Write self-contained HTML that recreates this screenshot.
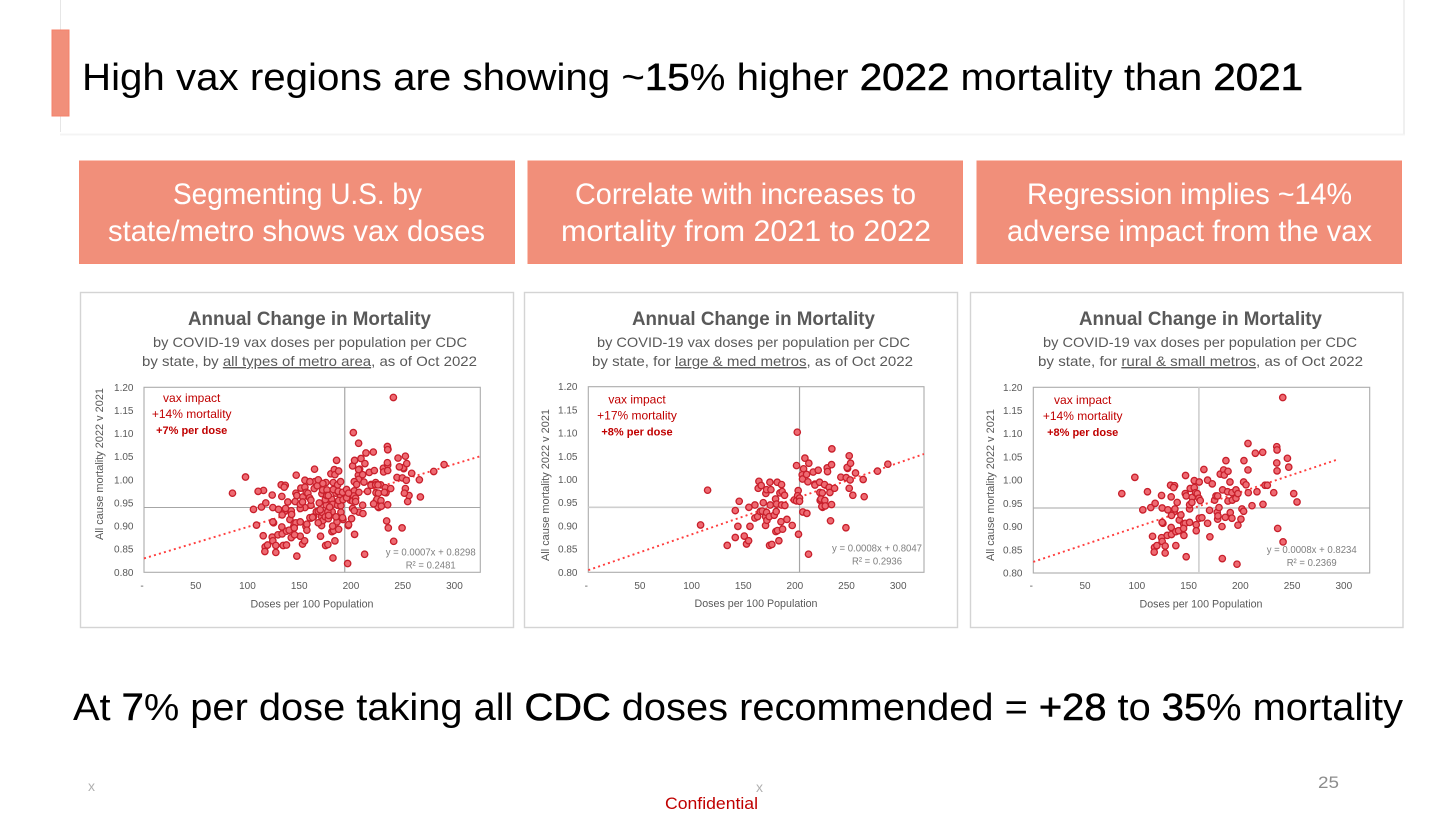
<!DOCTYPE html>
<html lang="en">
<head>
<meta charset="utf-8">
<title>High vax regions mortality slide</title>
<style>
html,body{margin:0;padding:0;background:#fff;width:1456px;height:816px;overflow:hidden}
svg{display:block}
text{font-family:"Liberation Sans",sans-serif}
.big{font-size:38px;fill:#000}
.strong{stroke:#000;stroke-width:.6}
.hd{font-size:29.5px;fill:#fff;text-anchor:middle}
.ct{font-size:19px;font-weight:700;fill:#595959}
.cs{font-size:14px;fill:#595959}
.ax{font-size:10px;fill:#595959}
.axt{font-size:11px;fill:#595959}
</style>
</head>
<body>
<svg xmlns="http://www.w3.org/2000/svg" width="1456" height="816" viewBox="0 0 1456 816">
  <rect x="0" y="0" width="1456" height="816" fill="#fff"/>
  <path d="M60.5 0V132" stroke="#e6e6e6" fill="none"/>
  <path d="M60 134.5H1405" stroke="#f4f4f4" stroke-width="2" fill="none"/>
  <path d="M1404 0V134" stroke="#f0f0f0" stroke-width="2" fill="none"/>
  <rect x="52" y="30" width="17" height="86" fill="#F18F7A" stroke="#F58069" stroke-width="1"/>
  <text class="big" x="82" y="90" textLength="1221" lengthAdjust="spacingAndGlyphs">High vax regions are showing ~<tspan class="strong">15</tspan>% higher <tspan class="strong">2022</tspan> mortality than <tspan class="strong">2021</tspan></text>

  <g>
    <rect x="79.5" y="161" width="435" height="102.5" fill="#F18F7A" stroke="#F58C75"/>
    <text class="hd" x="297.5" y="204" textLength="249" lengthAdjust="spacingAndGlyphs">Segmenting U.S. by</text>
    <text class="hd" x="296.5" y="241" textLength="377" lengthAdjust="spacingAndGlyphs">state/metro shows vax doses</text>
  </g>
  <g>
    <rect x="528" y="161" width="434.5" height="102.5" fill="#F18F7A" stroke="#F58C75"/>
    <text class="hd" x="745.5" y="204" textLength="341" lengthAdjust="spacingAndGlyphs">Correlate with increases to</text>
    <text class="hd" x="746" y="241" textLength="370" lengthAdjust="spacingAndGlyphs">mortality from 2021 to 2022</text>
  </g>
  <g>
    <rect x="977" y="161" width="424.5" height="102.5" fill="#F18F7A" stroke="#F58C75"/>
    <text class="hd" x="1189.5" y="204" textLength="325" lengthAdjust="spacingAndGlyphs">Regression implies ~14%</text>
    <text class="hd" x="1189.5" y="241" textLength="365" lengthAdjust="spacingAndGlyphs">adverse impact from the vax</text>
  </g>

  <g id="chart-all">
    <rect x="80.5" y="292.5" width="433" height="335" fill="#fff" stroke="#d4d4d4" stroke-width="1.4"/>
    <text class="ct" x="188" y="325" textLength="243" lengthAdjust="spacingAndGlyphs">Annual Change in Mortality</text>
    <text class="cs" x="153" y="347" textLength="314" lengthAdjust="spacingAndGlyphs">by COVID-19 vax doses per population per CDC</text>
    <text class="cs" x="142" y="366" textLength="335" lengthAdjust="spacingAndGlyphs">by state, by <tspan text-decoration="underline" style="text-decoration:underline">all types of metro area</tspan>, as of Oct 2022</text>
  </g>
  <g id="chart-large">
    <rect x="524.5" y="292.5" width="433" height="335" fill="#fff" stroke="#d4d4d4" stroke-width="1.4"/>
    <text class="ct" x="632" y="325" textLength="243" lengthAdjust="spacingAndGlyphs">Annual Change in Mortality</text>
    <text class="cs" x="597" y="347" textLength="313" lengthAdjust="spacingAndGlyphs">by COVID-19 vax doses per population per CDC</text>
    <text class="cs" x="592" y="366" textLength="321" lengthAdjust="spacingAndGlyphs">by state, for <tspan text-decoration="underline" style="text-decoration:underline">large &amp; med metros</tspan>, as of Oct 2022</text>
  </g>
  <g id="chart-small">
    <rect x="970.5" y="292.5" width="432.5" height="335" fill="#fff" stroke="#d4d4d4" stroke-width="1.4"/>
    <text class="ct" x="1079" y="325" textLength="243" lengthAdjust="spacingAndGlyphs">Annual Change in Mortality</text>
    <text class="cs" x="1043" y="347" textLength="314" lengthAdjust="spacingAndGlyphs">by COVID-19 vax doses per population per CDC</text>
    <text class="cs" x="1038" y="366" textLength="325" lengthAdjust="spacingAndGlyphs">by state, for <tspan text-decoration="underline" style="text-decoration:underline">rural &amp; small metros</tspan>, as of Oct 2022</text>
  </g>

  <text class="big" x="73" y="720" textLength="1330" lengthAdjust="spacingAndGlyphs">At <tspan class="strong">7</tspan>% per dose taking all <tspan class="strong">CDC</tspan> doses recommended = <tspan class="strong">+28</tspan> to <tspan class="strong">35</tspan>% mortality</text>
  <text x="88" y="791" font-size="14" fill="#b0b0b0" textLength="7" lengthAdjust="spacingAndGlyphs">x</text>
  <text x="756" y="792" font-size="14" fill="#b0b0b0" textLength="7" lengthAdjust="spacingAndGlyphs">x</text>
  <text x="665" y="809" font-size="17" fill="#c00000" textLength="93" lengthAdjust="spacingAndGlyphs">Confidential</text>
  <text x="1318" y="788" font-size="16.5" fill="#8c8c8c" textLength="21" lengthAdjust="spacingAndGlyphs">25</text>
</svg>

<script>
// Large & medium metros
const largeDoses = [108.7,115.5,134.5,142.3,142.3,146.1,144.8,151,153.2,155.2,155.5,156.5,161.3,161.3,163.9,165.2,164.5,167.4,166.5,168.4,169.4,171.9,172.6,171.6,171.6,172.6,172.9,175.2,175.8,175.5,177.7,176.1,176.8,180,181.3,182.3,181.9,182.9,181.6,183.2,184.5,185.5,187.1,187.1,186.5,187.7,188.1,190.3,190,192.3,197.4,199.4,201.6,202.3,203.2,202.6,201.6,204.5,204.5,203.5,207.7,211.6,208.4,209.7,207.1,207.4,211.3,212.6,213.5,213.2,217.7,219.4,219.4,222.6,223.9,224.2,224.5,226.5,225.2,226.8,226.1,228.7,229,229.4,231.3,231.6,233.2,233.9,234.5,235.5,235.5,235.8,238.4,244.5,249.7,249.4,251,250.6,252.6,253.9,253.5,252.6,256.1,258.7,266.1,267.1,280,290];
const largeMortality = [.902,.977,.858,.875,.933,.953,.899,.878,.861,.868,.94,.899,.945,.917,.92,.996,.981,.987,.931,.932,.95,.97,.978,.901,.92,.929,.912,.92,.994,.858,.86,.945,.978,.923,.958,.947,.931,.994,.888,.89,.868,.971,.989,.945,.909,.974,.893,.944,.966,.914,.901,.956,1.03,1.102,.976,.965,.954,.96,.953,.882,.93,.927,1.023,1.046,1.01,1.001,1.011,.995,1.035,.839,1.016,.99,.988,1.02,.994,.972,.955,.971,.958,.94,.942,.989,.955,.943,1.025,1.017,.983,.972,.911,1.032,.946,1.066,.981,1.005,1.004,.896,1.024,1.026,1.051,1.035,.999,.981,.966,1.014,1,.963,1.018,1.033];
// Rural & small metros
const smallDoses = [85.5,98.1,105.8,110.3,113.5,117.7,115.2,117.1,116.8,119.4,123.9,124.5,123.9,124.5,127.4,127.4,125.2,124.5,130,129.4,132.6,136.5,133.2,135.5,136.1,133.5,136.8,139,133.2,133.5,137.7,140.3,137.7,141,142.6,145.2,146.8,145.2,145.5,147.7,151,147.1,146.8,147.7,151.6,151,151,153.5,153.2,155.5,155.5,156.8,158.4,160.3,160,161.3,160.3,162.9,157.4,157.4,164.8,168.4,168.4,170.6,170.3,172.9,175.2,176.5,177.7,178.1,179.4,178.1,178.4,182.6,182.3,182.9,180.6,183.9,184.5,186.1,188.1,185.5,187.7,188.1,190,191.9,192.3,190.3,191.9,195.8,195.8,197.7,197.7,200.6,201.6,203.2,196.8,203.5,203.2,205.5,207.7,207.4,207.4,214.5,211.3,216.1,221.6,221.9,223.9,226.1,232.3,235.2,235.5,235.2,235.5,236.1,241.3,241,245.5,246.8,251.6,254.8];
const smallMortality = [.971,1.006,.936,.975,.941,.95,.879,.855,.845,.859,.967,.94,.876,.868,.858,.843,.907,.909,.936,.881,.989,.988,.964,.984,.932,.924,.938,.952,.898,.883,.889,.891,.859,.914,.925,.906,.907,.896,.881,.835,.909,1.01,.971,.966,.982,.938,.947,.963,.952,.999,.984,.973,.971,.996,.961,.956,.918,.919,.904,.891,1.023,1,.907,.878,.935,.992,.957,.966,.931,.966,.941,.916,.923,.831,.9,.979,1.013,1.022,1.011,1.042,1.019,.92,.975,.955,.996,.973,.957,.93,.918,.979,.961,.971,.903,.916,.938,.933,.819,1.042,.996,.99,.973,1.022,1.079,1.058,.945,.975,1.06,.948,.989,.989,.973,1.072,1.065,1.037,1.02,.896,.867,1.178,1.047,1.028,.971,.953];
// All metro types: every large/medium and rural/small metro together
const allDoses = largeDoses.concat(smallDoses);
const allMortality = largeMortality.concat(smallMortality);

const yTickValues = [0.80,0.85,0.90,0.95,1.00,1.05,1.10,1.15,1.20];
const xTickValues = [0,50,100,150,200,250,300];
const xDomain = [0,325];
const yDomain = [0.80,1.20];
const meanDoses = [194,204.5,160];
const meanMortality = [0.94,0.94,0.94];
const trendIntercepts = [0.83,0.8047,0.824];
const trendSlopes = [0.00068,0.00077,0.00075];
const trendEndDoses = [325,325,293];
const impactLines = [["vax impact","+14% mortality","+7% per dose"],["vax impact","+17% mortality","+8% per dose"],["vax impact","+14% mortality","+8% per dose"]];
const equationLines = [["y = 0.0007x + 0.8298","R² = 0.2481"],["y = 0.0008x + 0.8047","R² = 0.2936"],["y = 0.0008x + 0.8234","R² = 0.2369"]];

const layouts = [
  {id:'chart-all',key:'all',left:144,right:480.3,top:387.3,bottom:572.3,tickX:133.5,tickY:589,xTitle:312,xTitleY:607.5,yTitleX:103,yTitleC:464,annX:191.7,annY:402,eqX:430.7,eqY:555.7,hc:'#a6a6a6',hw:1,vc:'#a6a6a6',vw:1.2,doses:allDoses,mort:allMortality},
  {id:'chart-large',key:'large',left:588.3,right:924,top:386.7,bottom:572.3,tickX:577.5,tickY:589,xTitle:756,xTitleY:607,yTitleX:549,yTitleC:485,annX:637,annY:403.5,eqX:877,eqY:551.7,hc:'#cfcfcf',hw:1.6,vc:'#a6a6a6',vw:1.2,doses:largeDoses,mort:largeMortality},
  {id:'chart-small',key:'small',left:1033.3,right:1369.7,top:387.3,bottom:573,tickX:1022.5,tickY:589,xTitle:1201,xTitleY:607.5,yTitleX:994,yTitleC:485,annX:1082.7,annY:404,eqX:1311.7,eqY:553,hc:'#a6a6a6',hw:1,vc:'#cfcfcf',vw:1.6,doses:smallDoses,mort:smallMortality}
];
const SVGNS = 'http://www.w3.org/2000/svg';
function make(parent, tag, attrs, txt){
  const el = document.createElementNS(SVGNS, tag);
  for (const k in attrs) el.setAttribute(k, attrs[k]);
  if (txt !== undefined) el.textContent = txt;
  parent.appendChild(el);
  return el;
}
layouts.forEach(function(c, idx){
  const g = document.getElementById(c.id);
  const sx = function(v){ return c.left + (v - xDomain[0]) / (xDomain[1] - xDomain[0]) * (c.right - c.left); };
  const sy = function(v){ return c.bottom - (v - yDomain[0]) / (yDomain[1] - yDomain[0]) * (c.bottom - c.top); };

  const frame = make(g,'rect',{x:c.left,y:c.top,width:c.right-c.left,height:c.bottom-c.top,fill:'#fff',stroke:'#ababab','stroke-width':1.1});
  
  

  const hl = make(g,'line',{x1:c.left,x2:c.right,y1:sy(meanMortality[idx]),y2:sy(meanMortality[idx]),stroke:c.hc,'stroke-width':c.hw});
  
  

  const vl = make(g,'line',{x1:sx(meanDoses[idx]),x2:sx(meanDoses[idx]),y1:c.top,y2:c.bottom,stroke:c.vc,'stroke-width':c.vw});
  
  

  const tr = make(g,'line',{x1:sx(0),y1:sy(trendIntercepts[idx]),x2:sx(trendEndDoses[idx]),y2:sy(trendIntercepts[idx]+trendSlopes[idx]*trendEndDoses[idx]),stroke:'#ff3d3d','stroke-width':1.9,'stroke-dasharray':'2 3.2'});
  
  

  yTickValues.forEach(function(v){
    const t = make(g,'text',{class:'ax',x:c.tickX,y:sy(v)+3.5,'text-anchor':'end'},v.toFixed(2));
    
    
  });
  xTickValues.forEach(function(v){
    const t = make(g,'text',{class:'ax',x:sx(v)-(v===0?2:0),y:c.tickY,'text-anchor':'middle'},v===0?'-':String(v));
    
    
  });

  const xt = make(g,'text',{class:'axt',x:c.xTitle,y:c.xTitleY,'text-anchor':'middle',textLength:123,lengthAdjust:'spacingAndGlyphs'},'Doses per 100 Population');
  
  

  const yt = make(g,'text',{class:'axt',x:0,y:0,'text-anchor':'middle',textLength:152,lengthAdjust:'spacingAndGlyphs',transform:'translate('+c.yTitleX+' '+c.yTitleC+') rotate(-90)'},'All cause mortality 2022 v 2021');
  
  

  c.doses.forEach(function(d, i){
    const p = make(g,'circle',{cx:sx(d),cy:sy(c.mort[i]),r:3.2,fill:'#ee6a72',stroke:'#c81f2b','stroke-width':1.3});
    
    
  });

  impactLines[idx].forEach(function(line, i){
    const t = make(g,'text',{x:c.annX,y:c.annY+i*16,'text-anchor':'middle','font-size':i===2?11:12,'font-weight':i===2?700:400,fill:'#c00000'},line);
    
    
  });
  equationLines[idx].forEach(function(line, i){
    const t = make(g,'text',{x:c.eqX,y:c.eqY+i*13,'text-anchor':'middle','font-size':10,fill:'#7f7f7f',textLength:i===0?90:50,lengthAdjust:'spacingAndGlyphs'},line);
    
    
  });
});
</script>
</body>
</html>
